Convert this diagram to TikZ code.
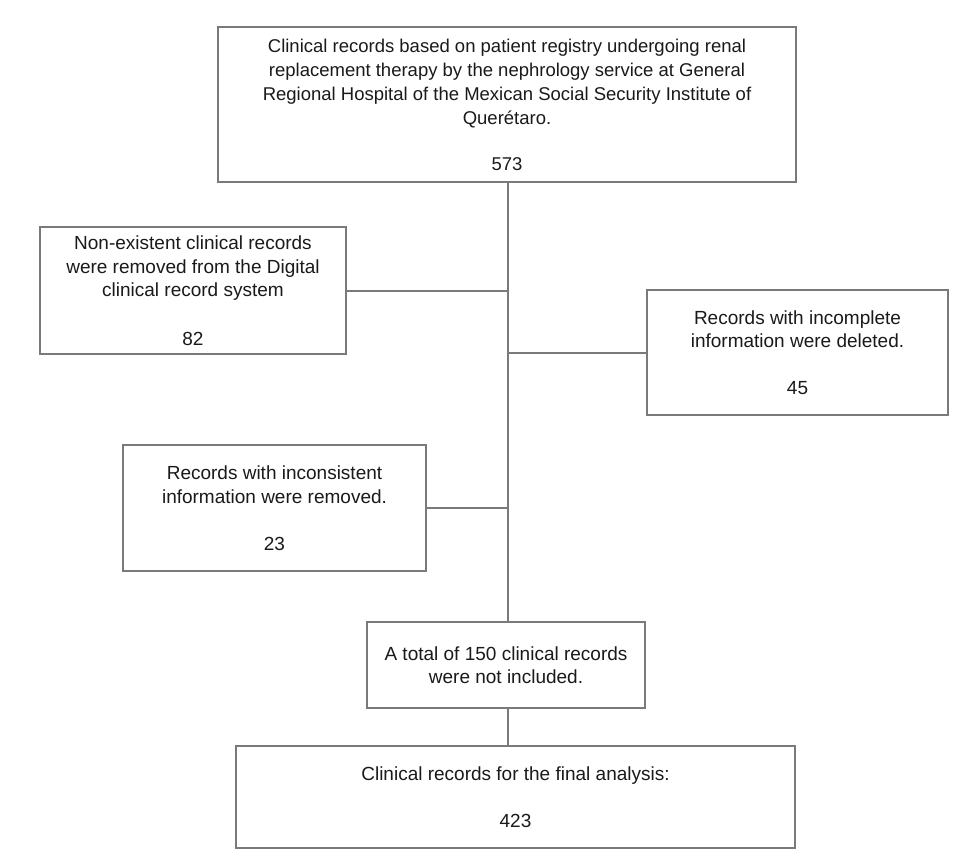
\documentclass[tikz,border=0pt]{standalone}
\usepackage{fontspec}
\setmainfont{Liberation Sans}
\definecolor{linegray}{HTML}{7A7A7A}
\definecolor{textgray}{HTML}{1A1A1A}
\begin{document}
\begin{tikzpicture}[x=1pt,y=-1pt,
  box/.style={draw=linegray, line width=1.4pt, align=center, inner sep=0pt,
    text=textgray, font=\fontsize{19}{23.5}\selectfont},
  topbox/.style={box, font=\fontsize{18.5}{24}\selectfont},
  conn/.style={draw=linegray, line width=1.5pt}]
\useasboundingbox[fill=white] (0,0) rectangle (980,860);
\node[topbox, minimum width=578pt, minimum height=155pt] (top) at (507,104.5)
  {Clinical records based on patient registry undergoing renal\\
   replacement therapy by the nephrology service at General\\
   Regional Hospital of the Mexican Social Security Institute of\\
   Querétaro.\\[22pt]573};
\node[box, minimum width=306pt, minimum height=127pt] (nonex) at (193,290.5)
  {Non-existent clinical records\\were removed from the Digital\\clinical record system\\[25pt]82};
\node[box, minimum width=301pt, minimum height=125pt] (incomp) at (797.5,352.5)
  {Records with incomplete\\information were deleted.\\[23.5pt]45};
\node[box, minimum width=303pt, minimum height=126pt] (incons) at (274.5,508)
  {Records with inconsistent\\information were removed.\\[23.5pt]23};
\node[box, minimum width=278pt, minimum height=86pt] (total) at (506,665)
  {A total of 150 clinical records\\were not included.};
\node[box, minimum width=559pt, minimum height=102pt] (final) at (515.5,797)
  {Clinical records for the final analysis:\\[23pt]423};
\coordinate (spine) at (508,0);
\draw[conn] (top.south -| spine) -- (total.north -| spine);
\draw[conn] ([yshift=-0.5pt]nonex.east) -- ([yshift=-0.5pt]nonex.east -| spine);
\draw[conn] ([yshift=-0.5pt]incomp.west) -- ([yshift=-0.5pt]incomp.west -| spine);
\draw[conn] (incons.east) -- (incons.east -| spine);
\draw[conn] (total.south -| spine) -- (final.north -| spine);
\end{tikzpicture}
\end{document}
